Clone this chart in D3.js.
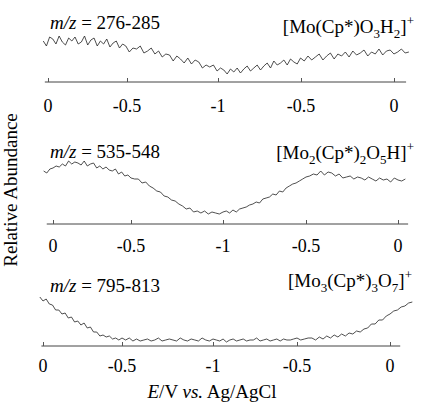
<!DOCTYPE html>
<html>
<head>
<meta charset="utf-8">
<script src="https://cdn.jsdelivr.net/npm/d3@7"></script>
</head>
<body style="margin:0">
<svg id="chart" width="425" height="406"></svg>
<script>
// sweep position: 0 = start (0 V), 1 = -1 V, 2 = back at 0 V
var tickValues = [0, 0.5, 1, 1.5, 2];
var tickLabels = ["0", "-0.5", "-1", "-0.5", "0"];
var massRanges = ["276-285", "535-548", "795-813"];
var sweepStart = [-0.03, -0.06, -0.02];
var sweepEnd = [2.08, 2.04, 2.12];

// relative abundance (arb. units)
var abundance1 = [
  41, 36, 45, 43, 38, 46, 40, 37, 44, 41,
  45, 38, 40, 46, 37, 42, 44, 36, 41, 38,
  43, 35, 39, 41, 34, 38, 36, 30, 34, 33,
  36, 29, 31, 34, 28, 31, 25, 28, 27, 21,
  26, 23, 19, 24, 18, 22, 20, 14, 17, 15,
  17, 11, 14, 12, 8, 13, 10, 14, 9, 13,
  16, 11, 14, 17, 12, 16, 19, 14, 21, 17,
  19, 22, 17, 23, 20, 18, 24, 21, 26, 22,
  25, 28, 22, 26, 29, 23, 28, 26, 30, 25,
  31, 27, 29, 32, 26, 30, 28, 33, 27, 31,
  32, 28, 30, 33, 29, 30
];
var abundance2 = [
  53, 51, 55, 56, 58, 57, 60, 58, 63, 60,
  62, 61, 59, 63, 58, 60, 61, 56, 58, 55,
  57, 54, 53, 55, 50, 52, 48, 49, 46, 45,
  45, 41, 42, 38, 36, 33, 32, 28, 27, 24,
  23, 20, 18, 15, 16, 12, 13, 11, 13, 10,
  12, 11, 10, 12, 13, 11, 14, 12, 15, 16,
  17, 19, 20, 22, 21, 25, 26, 27, 30, 29,
  33, 32, 36, 38, 40, 41, 43, 45, 47, 48,
  50, 49, 53, 49, 52, 51, 48, 50, 46, 47,
  48, 45, 47, 46, 44, 47, 45, 43, 46, 44,
  45, 42, 46, 44, 43, 45
];
var abundance3 = [
  49, 45, 47, 42, 41, 36, 36, 32, 33, 28,
  29, 24, 25, 21, 23, 18, 19, 14, 14, 10,
  11, 9, 10, 7, 8, 6, 8, 6, 8, 5,
  7, 5, 6, 7, 5, 6, 8, 5, 6, 7,
  6, 5, 8, 6, 5, 7, 6, 5, 8, 6,
  5, 7, 6, 5, 7, 4, 6, 7, 5, 6,
  7, 5, 6, 6, 8, 5, 6, 7, 5, 6,
  7, 5, 7, 6, 6, 7, 8, 6, 7, 8,
  8, 6, 9, 7, 10, 8, 11, 9, 12, 10,
  13, 12, 15, 14, 17, 18, 22, 22, 26, 26,
  30, 32, 35, 36, 39, 40, 43, 44
];
var ion1 = [["[Mo(Cp*)O", ""], ["3", "sub"], ["H", ""], ["2", "sub"], ["]", ""], ["+", "sup"]];
var ion2 = [["[Mo", ""], ["2", "sub"], ["(Cp*)", ""], ["2", "sub"], ["O", ""], ["5", "sub"], ["H]", ""], ["+", "sup"]];
var ion3 = [["[Mo", ""], ["3", "sub"], ["(Cp*)", ""], ["3", "sub"], ["O", ""], ["7", "sub"], ["]", ""], ["+", "sup"]];

var series = [abundance1, abundance2, abundance3];
var ions = [ion1, ion2, ion3];

// layout per panel
var panels = [
  { axisY: 82, tickPx: [48, 127, 218, 301, 394], ext: [-0.02, 2.065], lab: 30, mzY: 29, ionY: 33, ionX: 414 },
  { axisY: 224, tickPx: [53, 131, 223, 306, 398], ext: [-0.04, 2.055], lab: 28, mzY: 158, ionY: 159, ionX: 414 },
  { axisY: 346, tickPx: [43, 122, 213, 297, 390], ext: [-0.01, 2.055], lab: 26, mzY: 292, ionY: 287, ionX: 412 }
];

var serif = "'Liberation Serif'";
var tickFont = 18, textFont = 19;
var svg = d3.select("#chart");

function label(parent, size) {
  return parent.append("text")
    .style("font-family", serif)
    .attr("font-size", size)
    .attr("fill", "#000");
}

function drawIon(g, parts, x, y) {
  var t = label(g, textFont)
    .attr("x", x).attr("y", y)
    .attr("text-anchor", "end");
  var shift = 0;
  parts.forEach(function(p) {
    var target = p[1] == "sub" ? 5 : (p[1] == "sup" ? -8 : 0);
    t.append("tspan")
      .attr("dy", target - shift)
      .attr("font-size", p[1] ? 13 : textFont)
      .text(p[0]);
    shift = target;
  });
}

panels.forEach(function(p, k) {
  var g = svg.append("g");
  var x = d3.scaleLinear().domain(tickValues).range(p.tickPx);
  var y = d3.scaleLinear().domain([0, 60]).range([p.axisY, p.axisY - 60]);

  var vals = series[k];
  var step = (sweepEnd[k] - sweepStart[k]) / (vals.length - 1);
  var pts = vals.map(function(v, i) { return [sweepStart[k] + i * step, v]; });

  g.append("line")
    .attr("x1", x(p.ext[0])).attr("x2", x(p.ext[1]))
    .attr("y1", p.axisY).attr("y2", p.axisY)
    .attr("stroke", "#444").attr("stroke-width", 1);

  // ticks drawn with the axis generator, labels drawn as plain text below
  var axis = d3.axisBottom(x)
    .tickValues(tickValues)
    .tickFormat("")
    .tickSizeInner(-4)
    .tickSizeOuter(0);
  var ag = g.append("g")
    .attr("transform", "translate(0," + p.axisY + ")")
    .call(axis);
  ag.select(".domain").remove();
  ag.selectAll(".tick line").attr("stroke", "#555");

  tickValues.forEach(function(v, i) {
    label(g, tickFont)
      .attr("x", x(v))
      .attr("y", p.axisY + p.lab)
      .attr("text-anchor", "middle")
      .text(tickLabels[i]);
  });

  g.append("path")
    .datum(pts)
    .attr("fill", "none")
    .attr("stroke", "#222")
    .attr("stroke-width", 0.8)
    .attr("d", d3.line()
      .x(function(d) { return x(d[0]); })
      .y(function(d) { return y(d[1]); }));

  var mz = label(g, textFont).attr("x", 50).attr("y", p.mzY);
  mz.append("tspan").attr("font-style", "italic").text("m/z");
  mz.append("tspan").text(" = " + massRanges[k]);

  drawIon(g, ions[k], p.ionX, p.ionY);
});

label(svg, textFont)
  .attr("transform", "translate(17,190) rotate(-90)")
  .attr("text-anchor", "middle")
  .text("Relative Abundance");

var xl = label(svg, textFont)
  .attr("x", 212).attr("y", 398)
  .attr("text-anchor", "middle");
xl.append("tspan").attr("font-style", "italic").text("E");
xl.append("tspan").text("/V ");
xl.append("tspan").attr("font-style", "italic").text("vs.");
xl.append("tspan").text(" Ag/AgCl");
</script>
</body>
</html>
